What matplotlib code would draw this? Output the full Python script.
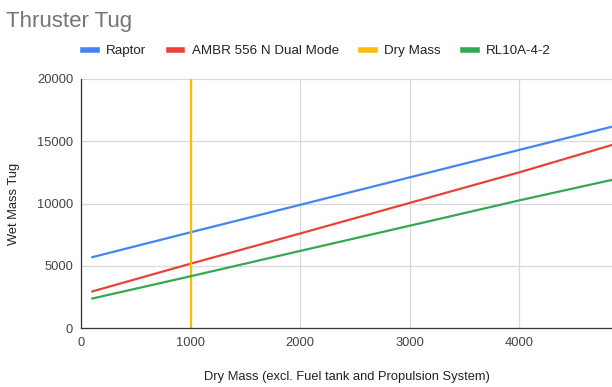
import numpy as np
import matplotlib.pyplot as plt

plt.rcParams['font.family'] = ['Liberation Sans', 'DejaVu Sans']

# data
dry_mass = [100, 1000, 2000, 3000, 4000, 4850]
raptor = [5700, 7700, 9900, 12100, 14300, 16170]
ambr = [2950, 5180, 7600, 10050, 12500, 14700]
rl10 = [2380, 4170, 6200, 8220, 10250, 11900]
dry_line_x = [1000, 1000]
dry_line_y = [0, 20000]

fig = plt.figure(figsize=(6.12, 3.87), dpi=100)
ax = fig.add_axes([0.133, 0.152, 0.867, 0.644])

ax.plot(dry_mass, raptor, color='#4285F4', lw=1.6, label='Raptor')
ax.plot(dry_mass, ambr, color='#EA4335', lw=1.6, label='AMBR 556 N Dual Mode')
ax.plot(dry_line_x, dry_line_y, color='#FBBC04', lw=1.6, label='Dry Mass')
ax.plot(dry_mass, rl10, color='#34A853', lw=1.6, label='RL10A-4-2')

ax.set_xlim(0, 4850)
ax.set_ylim(0, 20000)
ax.set_xticks([0, 1000, 2000, 3000, 4000])
ax.set_yticks([0, 5000, 10000, 15000, 20000])
ax.grid(True, color='#d9d9d9', lw=0.9)
ax.set_axisbelow(True)
for s in ['top', 'right']:
    ax.spines[s].set_visible(False)
for s in ['left', 'bottom']:
    ax.spines[s].set_color('#333333')
    ax.spines[s].set_linewidth(0.9)
ax.tick_params(length=0, labelsize=9.3, labelcolor='#444444', pad=6)

ax.set_xlabel('Dry Mass (excl. Fuel tank and Propulsion System)', fontsize=9.3, color='#222222', labelpad=16)
ax.set_ylabel('Wet Mass Tug', fontsize=9.3, color='#222222', labelpad=12)

fig.text(0.01, 0.93, 'Thruster Tug', fontsize=16, color='#757575')
fig.legend(loc='center', bbox_to_anchor=(0.518, 0.868), ncol=4, frameon=False,
           fontsize=9.6, handlelength=1.0, handletextpad=0.7, columnspacing=1.7,
           labelcolor='#222222')
for h in fig.legends[0].legend_handles:
    h.set_linewidth(4)

fig.savefig('out.png', dpi=100)
